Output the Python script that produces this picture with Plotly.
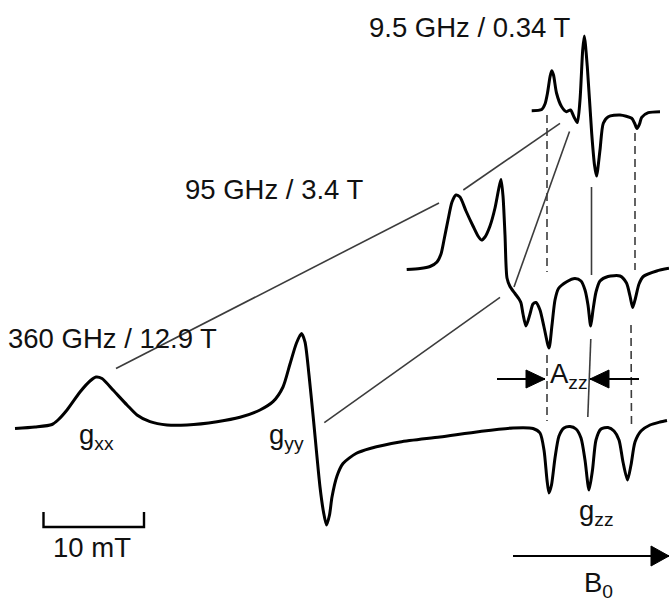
import plotly.graph_objects as go

W, H = 669, 603

# ---- spectra (field position along B0, drawn signal position) ----
x_360 = [15, 35, 52, 58, 67, 80, 90, 96, 102, 113, 127, 137, 150, 167, 187, 217, 240, 260, 273, 283,
         290, 296.5, 301.5, 305, 309, 313.5, 320, 323.5, 326.5, 329.5, 332, 337, 343, 356, 370, 400,
         440, 480, 513, 533, 540, 544, 547, 549, 551.5, 555, 559, 564, 570, 576, 581, 585, 589,
         592.5, 596, 601, 608, 614, 619, 623, 627.5, 631, 635, 641, 650, 660, 667]
y_360 = [428.5, 427, 424.5, 420, 410, 392, 381, 377, 378.5, 390, 405, 415, 421.7, 425, 425, 421.7,
         417.3, 410, 401.7, 387, 364, 343, 333.5, 342, 375, 420, 487, 512, 525, 515, 497, 476, 463.5,
         453.5, 448.5, 442, 437, 431.5, 428, 428.5, 433, 450, 480, 493, 485, 458, 436, 428, 426.5,
         429, 438, 460, 490, 470, 440, 429, 427.5, 431, 440, 462, 480, 465, 442, 431, 425, 422, 420.5]

x_95 = [406.7, 420, 430, 437, 441, 444, 448, 452, 456, 460, 466, 473, 478, 481.5, 485, 490, 495,
        498.5, 501, 503, 505, 507, 510, 515, 519, 521, 523, 526, 530, 533, 536, 540, 544, 549, 552,
        555, 558.5, 566.7, 575, 581, 585, 588, 590.7, 593, 596, 600, 608, 620, 626.5, 630, 632.7,
        635.5, 639, 643.3, 656.7, 669]
y_95 = [269.5, 268.5, 266.5, 262, 254, 240, 220, 202, 195, 197, 211, 226, 236, 240, 237, 226, 208,
        190, 179.5, 196, 235, 278, 286.5, 293.5, 299, 303, 314, 326, 314, 304, 302.5, 310, 327, 348,
        325, 300, 288.5, 281.7, 278.5, 281, 290, 305, 326, 310, 292, 281, 276.5, 276, 283, 296,
        307.5, 298, 284, 276.5, 271, 268.3]

x_9 = [531.7, 541.7, 545, 547.5, 550, 551.7, 553.5, 556.5, 561.5, 566.5, 570.5, 574, 577.3, 580,
       582.7, 584.3, 587.3, 591.7, 594.5, 596.5, 600, 603.3, 608.3, 620, 631.7, 634.5, 637, 639.5,
       641.7, 648.3, 660]
y_9 = [110.7, 109.5, 104, 93, 77, 70.7, 75, 93, 106.5, 111.7, 110, 117, 122.5, 100, 50, 36, 66.7,
       133.3, 165, 176, 150, 123.3, 116.7, 115, 118.3, 123, 128.5, 124, 117.3, 112.7, 111.7]

# ---- correlation lines between spectra (start/end pairs) ----
corr_x = [(116, 439), (463.3, 560), (324.3, 500), (514, 569.5)]
corr_y = [(368.5, 203), (190, 123.3), (422.7, 297.3), (287, 131.5)]

# ---- marker lines for the hyperfine/gzz positions ----
dash_x = [(547, 547), (547, 547), (635, 635), (631, 631.5)]
dash_y = [(115, 272), (355, 421), (133, 270), (325, 427)]
solid_x = [(591.5, 591.5), (590.8, 587.8)]
solid_y = [(187, 275), (339, 417)]

LABEL_FONT = dict(family="Liberation Sans, Arial, sans-serif", size=27.5, color="#111")

fig = go.Figure()
for xs, ys in [(x_360, y_360), (x_95, y_95), (x_9, y_9)]:
    fig.add_trace(go.Scatter(x=xs, y=ys, mode="lines", hoverinfo="skip",
                             line=dict(color="black", width=3, shape="spline", smoothing=0.7)))
for xs, ys in zip(corr_x, corr_y):
    fig.add_trace(go.Scatter(x=list(xs), y=list(ys), mode="lines", hoverinfo="skip",
                             line=dict(color="#3c3c3c", width=1.6)))
for xs, ys in zip(dash_x, dash_y):
    fig.add_trace(go.Scatter(x=list(xs), y=list(ys), mode="lines", hoverinfo="skip",
                             line=dict(color="#3c3c3c", width=1.6, dash="8px,5px")))
for xs, ys in zip(solid_x, solid_y):
    fig.add_trace(go.Scatter(x=list(xs), y=list(ys), mode="lines", hoverinfo="skip",
                             line=dict(color="#3c3c3c", width=1.6)))

shapes = []
def arrow(x0, x1, y, head_len, half_h, lw):
    # shaft
    shapes.append(dict(type="line", x0=x0, x1=x1, y0=y, y1=y, xref="x", yref="y",
                       line=dict(color="black", width=lw)))
    d = 1 if x1 > x0 else -1
    bx = x1 - d * head_len
    shapes.append(dict(type="path", xref="x", yref="y",
                       path=f"M {x1} {y} L {bx} {y - half_h} L {bx} {y + half_h} Z",
                       fillcolor="black", line=dict(color="black", width=1)))

arrow(497, 545, 379, 19, 9, 2.2)
arrow(639, 590, 379, 19, 9, 2.2)
arrow(513, 669, 556, 18, 10, 2.2)

# scale bar 10 mT
shapes.append(dict(type="path", xref="x", yref="y",
                   path="M 43.5 512 L 43.5 527 L 144 527 L 144 512",
                   line=dict(color="black", width=2.4)))

fig.update_layout(shapes=shapes)

labels = [
    (368, 27, "9.5 GHz / 0.34 T"),
    (184, 189, "95 GHz / 3.4 T"),
    (7, 338, "360 GHz / 12.9 T"),
    (52, 547, "10 mT"),
    (78, 436, "g<sub>xx</sub>"),
    (268, 436, "g<sub>yy</sub>"),
    (578, 512, "g<sub>zz</sub>"),
    (549, 375, "A<sub>zz</sub>"),
    (583, 584, "B<sub>0</sub>"),
]
for x, y, t in labels:
    fig.add_annotation(x=x, y=y, text=t, showarrow=False, xref="x", yref="y",
                       xanchor="left", yanchor="middle", font=LABEL_FONT, borderpad=0)

fig.update_xaxes(range=[0, W], visible=False, fixedrange=True)
fig.update_yaxes(range=[H, 0], visible=False, fixedrange=True)
fig.update_layout(width=W, height=H, margin=dict(l=0, r=0, t=0, b=0),
                  paper_bgcolor="white", plot_bgcolor="white", showlegend=False)

fig.write_html("out.html", config={"displayModeBar": False})
